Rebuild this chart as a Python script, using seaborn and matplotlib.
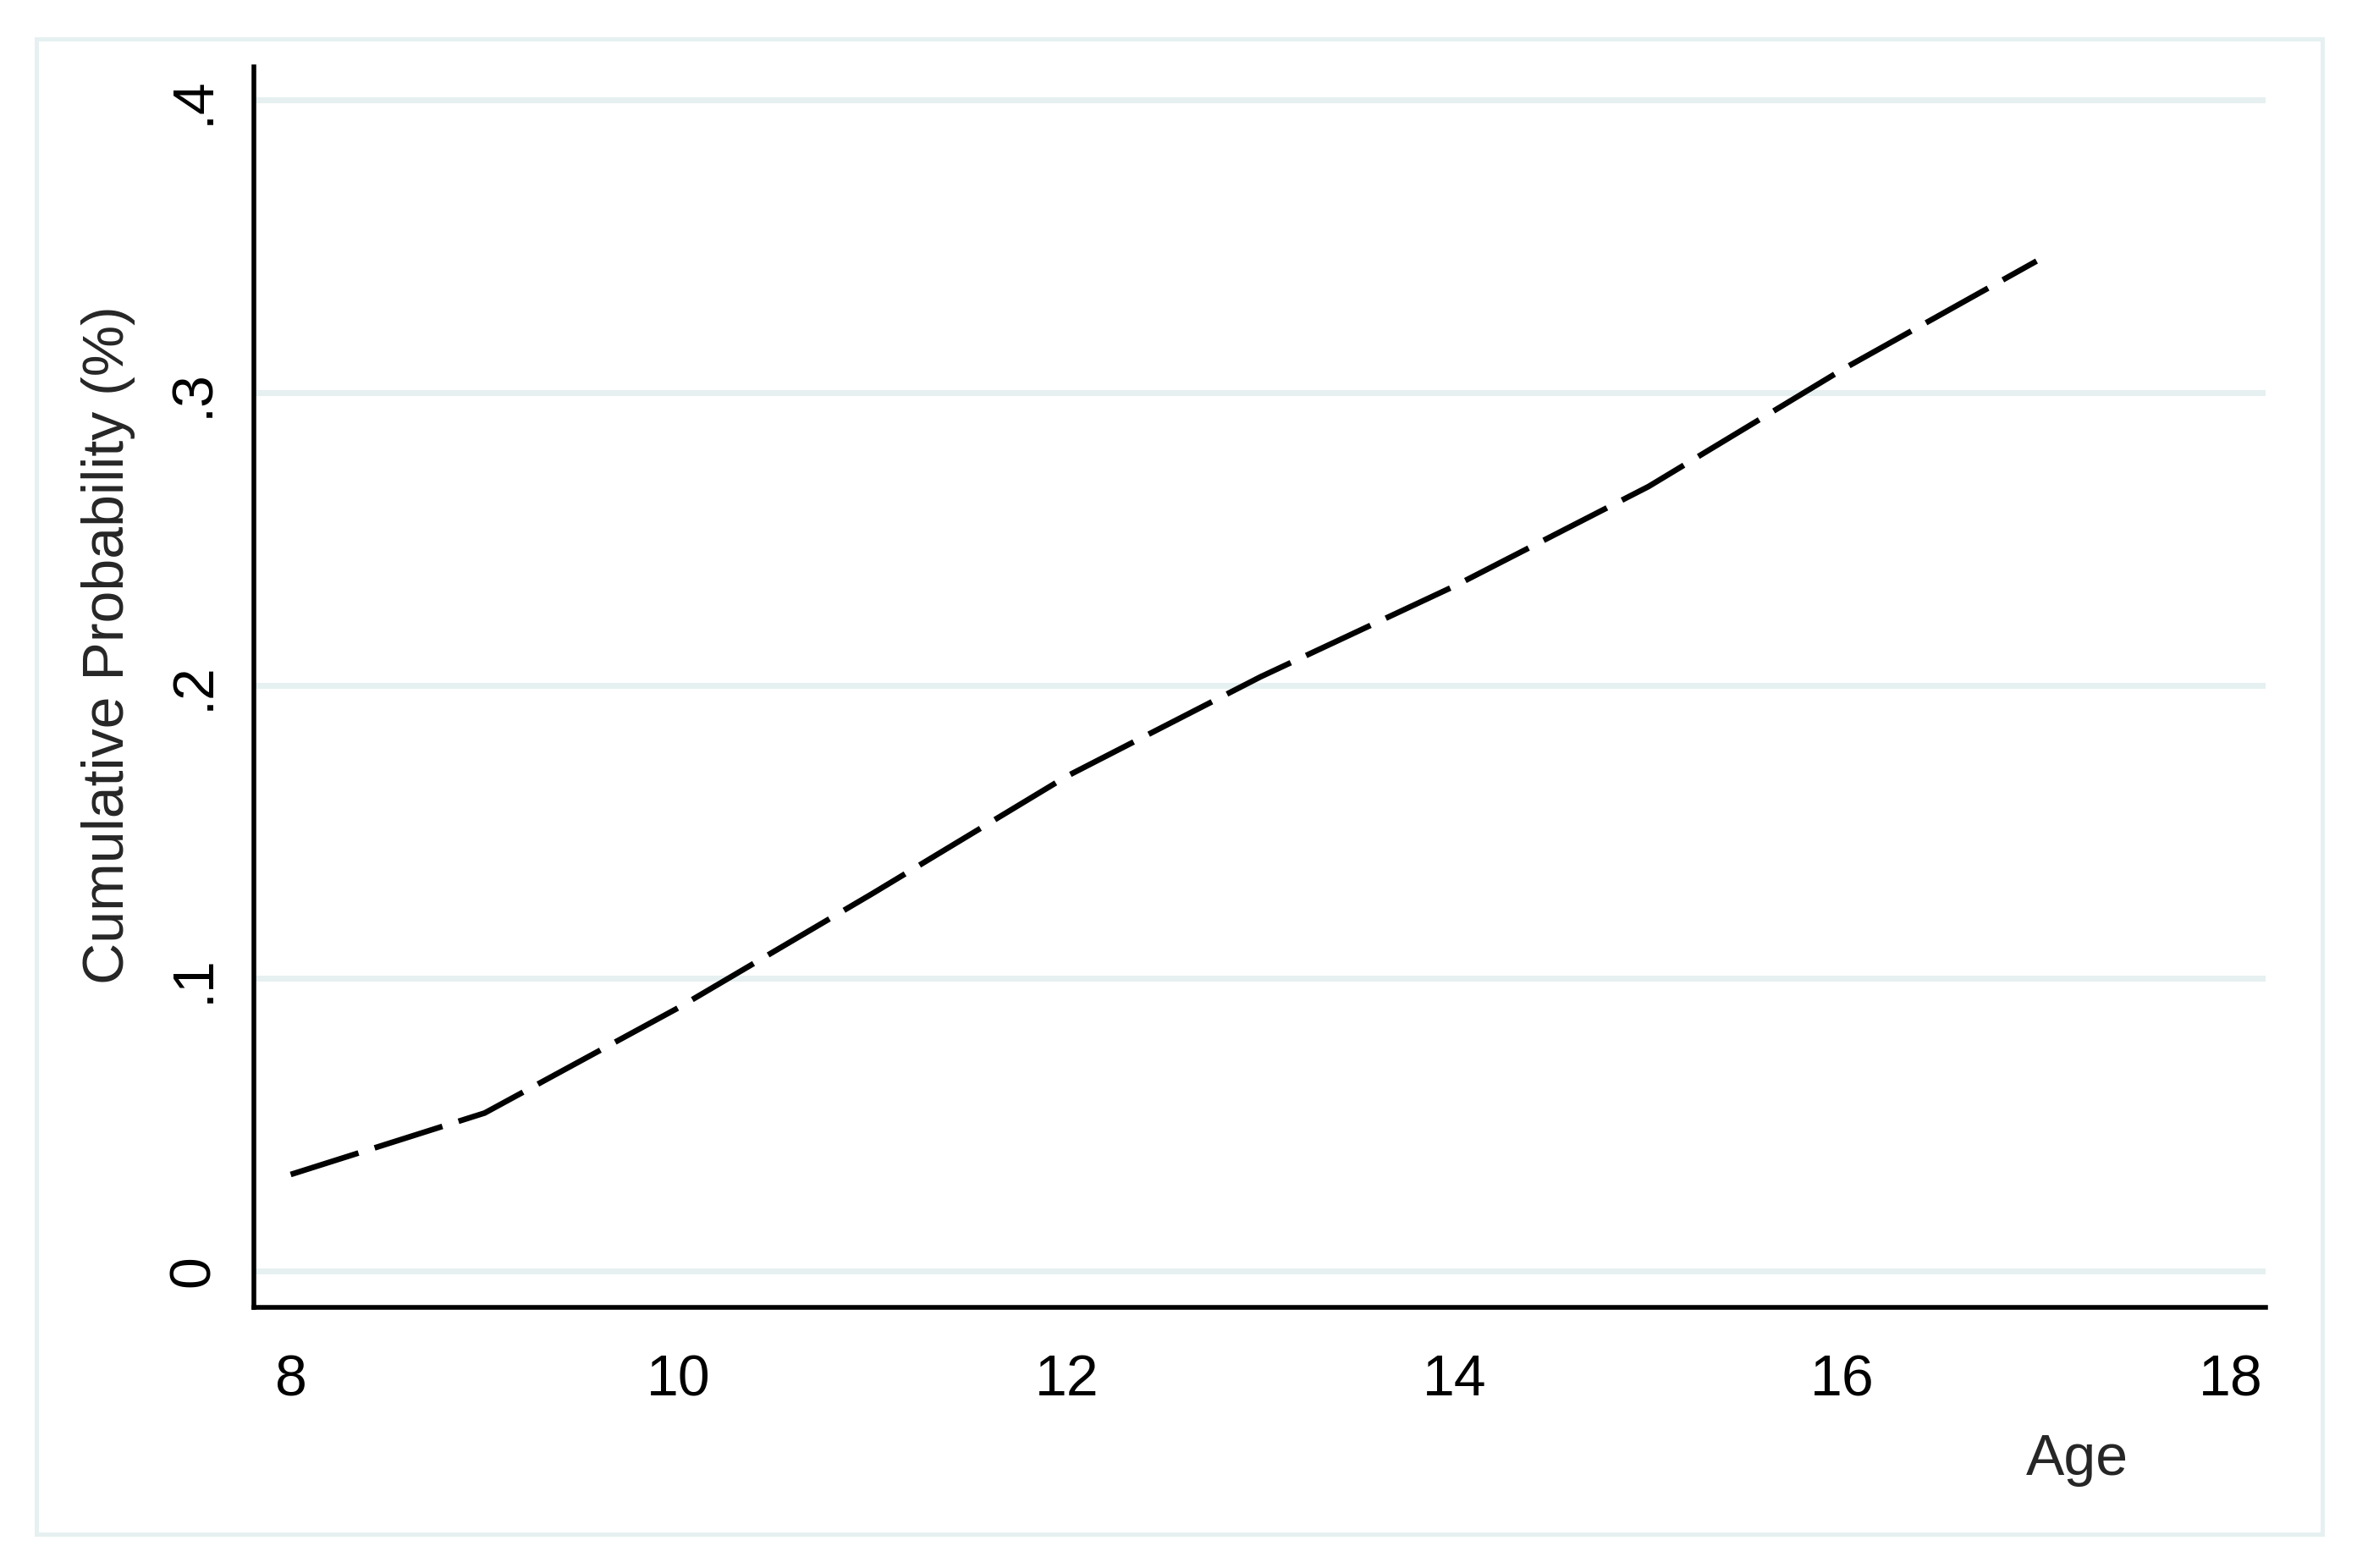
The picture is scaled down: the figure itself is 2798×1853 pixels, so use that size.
import matplotlib
matplotlib.use("Agg")
import matplotlib.pyplot as plt
import seaborn as sns
import pandas as pd
from matplotlib.patches import Rectangle

# values
age = [8, 9, 10, 11, 12, 13, 14, 15, 16, 17]
cum_prob = [0.033, 0.054, 0.090, 0.129, 0.169, 0.203, 0.234, 0.268, 0.308, 0.345]
x_ticks = [8, 10, 12, 14, 16, 18]
y_ticks = [0, 0.1, 0.2, 0.3, 0.4]
y_tick_labels = ["0", ".1", ".2", ".3", ".4"]

df = pd.DataFrame({"Age": age, "Cumulative Probability (%)": cum_prob})

sns.set_style("white")
plt.rcParams["font.family"] = ["Liberation Sans", "DejaVu Sans"]

grid_col = "#e6f0f0"
fs = 24.5

fig = plt.figure(figsize=(13.99, 9.265), dpi=200)
ax = fig.add_axes([0.1072, 0.1662, 0.8495, 0.7911])

sns.lineplot(data=df, x="Age", y="Cumulative Probability (%)", ax=ax,
             color="black", lw=2.4, linestyle=(0, (12.6, 3.0)))

ax.set_xlim(7.81, 18.18)
ax.set_ylim(-0.0124, 0.4113)
ax.set_xticks(x_ticks)
ax.set_xticklabels([str(t) for t in x_ticks])
ax.set_yticks(y_ticks)
ax.set_yticklabels(y_tick_labels, rotation=90, va="center")

ax.set_axisbelow(True)
ax.yaxis.grid(True, color=grid_col, lw=2.5)
ax.xaxis.grid(False)

for s in ["top", "right"]:
    ax.spines[s].set_visible(False)
for s in ["left", "bottom"]:
    ax.spines[s].set_color("black")
    ax.spines[s].set_linewidth(2.0)

ax.tick_params(axis="both", length=9.5, width=2.0, color="black",
               labelsize=fs, labelcolor="black")
ax.tick_params(axis="x", pad=10)
ax.tick_params(axis="y", pad=4.7)

ax.set_xlabel("Age", fontsize=fs)
ax.set_ylabel("Cumulative Probability (%)", fontsize=fs)
ax.xaxis.set_label_coords(0.9066, -0.101)
ax.yaxis.set_label_coords(-0.0589, 0.534)

# light outer frame like the Stata graph region
fig.patches.append(Rectangle((0.0154, 0.0216), 0.9653, 0.9536,
                             transform=fig.transFigure, fill=False,
                             edgecolor=grid_col, lw=1.8))

fig.savefig("out.png", dpi=200, facecolor="white")
